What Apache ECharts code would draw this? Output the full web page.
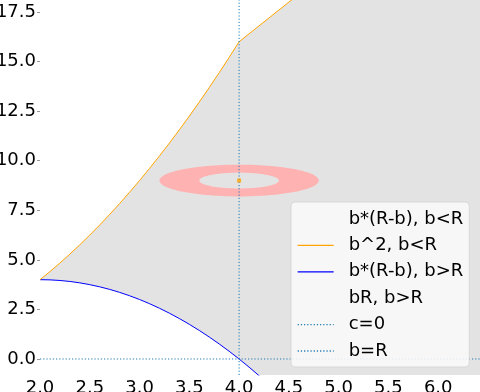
<!DOCTYPE html>
<html><head><meta charset="utf-8">
<script src="https://cdn.jsdelivr.net/npm/echarts@6/dist/echarts.min.js"></script>
<style>html,body{margin:0;padding:0;background:#fff}#c{width:480px;height:392px}</style>
</head><body><div id="c"></div>
<script>
// b values below R (=4)
const bLow = [2.0,2.1,2.2,2.3,2.4,2.5,2.6,2.7,2.8,2.9,3.0,3.1,3.2,3.3,3.4,3.5,3.6,3.7,3.8,3.9,4.0];
// upper edge b^2 for b<R
const squareLow = [4,4.41,4.84,5.29,5.76,6.25,6.76,7.29,7.84,8.41,9,9.61,10.24,10.89,11.56,12.25,12.96,13.69,14.44,15.21,16];
// lower edge b*(R-b) for b<R
const prodLow = [4,3.99,3.96,3.91,3.84,3.75,3.64,3.51,3.36,3.19,3,2.79,2.56,2.31,2.04,1.75,1.44,1.11,0.76,0.39,0];
// lower edge b*(R-b) for b>R
const bHigh = [4.0,4.1,4.2,4.3,4.4];
const prodHigh = [0,-0.41,-0.84,-1.29,-1.76];
// upper edge bR for b>R
const bHighR = [4.0,4.5,5.0,5.5,6.0,6.5];
const bRHigh = [16,18,20,22,24,26];
// reference lines
const cZero = 0;
const bEqR = 4;
// ring + point
const ringCenter = [4, 9];
const ringRadii = [0.4, 0.8];
// ticks
const xTicks = [2.0,2.5,3.0,3.5,4.0,4.5,5.0,5.5,6.0];
const yTicks = [0.0,2.5,5.0,7.5,10.0,12.5,15.0,17.5];
const xRange = [2.0, 6.42];
const yRange = [-0.807, 18.105];

const zip = (a, b) => a.map((v, i) => [v, b[i]]);
const FONT = 'DejaVu Sans';
const GRAY = '#e3e3e3';

const chart = echarts.init(document.getElementById('c'), null, {renderer: 'canvas'});
const hidden = {itemStyle: {opacity: 0}, lineStyle: {opacity: 0}};
const dotted = {color: '#1f77b4', width: 1, type: [1.2, 2]};

chart.setOption({
  animation: false,
  grid: {left: 40, right: 0, top: 0, bottom: 17, outerBoundsMode: 'none', containLabel: false},
  xAxis: {
    type: 'value', min: xRange[0], max: xRange[1],
    axisLine: {show: false},
    axisTick: {show: true, length: 3, lineStyle: {color: '#999'}, customValues: xTicks},
    axisLabel: {customValues: xTicks, formatter: v => v.toFixed(1), color: '#000', fontFamily: FONT, fontSize: 18, margin: 4},
    splitLine: {show: false}
  },
  yAxis: {
    type: 'value', min: yRange[0], max: yRange[1],
    axisLine: {show: false},
    axisTick: {show: true, length: 3, lineStyle: {color: '#999'}, customValues: yTicks},
    axisLabel: {customValues: yTicks, formatter: v => v.toFixed(1), color: '#000', fontFamily: FONT, fontSize: 18, margin: 4},
    splitLine: {show: false}
  },
  legend: {
    orient: 'vertical', left: 291, top: 202,
    padding: [8, 6, 7, 6],
    itemWidth: 36, itemHeight: 18, itemGap: 8.4,
    itemStyle: {opacity: 0},
    lineStyle: {width: 1.3},
    backgroundColor: 'rgba(248,248,248,0.9)',
    borderColor: 'rgba(210,210,210,0.8)', borderWidth: 1, borderRadius: 4,
    textStyle: {fontFamily: FONT, fontSize: 18, color: '#000', padding: [0, 0, 0, 10], lineHeight: 18},
    data: [
      Object.assign({name: 'b*(R-b), b<R'}, hidden),
      {name: 'b^2, b<R'},
      {name: 'b*(R-b), b>R'},
      Object.assign({name: 'bR, b>R'}, hidden),
      {name: 'c=0'},
      {name: 'b=R'}
    ]
  },
  series: [
    {
      type: 'line', silent: true, symbol: 'none',
      data: zip(bLow, squareLow).concat(zip(bHighR.slice(1), bRHigh.slice(1))),
      lineStyle: {opacity: 0}, areaStyle: {color: GRAY, opacity: 1, origin: 'start'}
    },
    {
      name: 'b*(R-b), b<R', type: 'line', symbol: 'none', silent: true,
      data: zip(bLow, prodLow), color: '#0000ff',
      lineStyle: {color: '#0000ff', width: 1},
      areaStyle: {color: '#ffffff', opacity: 1, origin: 'start'}
    },
    {
      name: 'b*(R-b), b>R', type: 'line', symbol: 'none', silent: true,
      data: zip(bHigh, prodHigh), color: '#0000ff',
      lineStyle: {color: '#0000ff', width: 1},
      areaStyle: {color: '#ffffff', opacity: 1, origin: 'start'}
    },
    {
      name: 'b^2, b<R', type: 'line', symbol: 'none', silent: true,
      data: zip(bLow, squareLow), color: '#ffa500',
      lineStyle: {color: '#ffa500', width: 1}
    },
    {
      name: 'bR, b>R', type: 'line', symbol: 'none', silent: true,
      data: zip(bHighR, bRHigh), color: '#ffa500',
      lineStyle: {color: '#ffa500', width: 1}
    },
    {
      type: 'custom', silent: true, z: 3,
      data: [ringCenter.slice()],
      renderItem: function (params, api) {
        const c = api.coord([api.value(0), api.value(1)]);
        const so = api.size([ringRadii[1], ringRadii[1]]);
        const si = api.size([ringRadii[0], ringRadii[0]]);
        const pts = s => {
          const a = [];
          for (let i = 0; i < 120; i++) {
            const t = i / 120 * Math.PI * 2;
            a.push([c[0] + s[0] * Math.cos(t), c[1] + s[1] * Math.sin(t)]);
          }
          return a;
        };
        return {type: 'group', children: [
          {type: 'polygon', shape: {points: pts(so)}, style: {fill: '#ffb2b2'}},
          {type: 'polygon', shape: {points: pts(si)}, style: {fill: GRAY}}
        ]};
      }
    },
    {
      name: 'c=0', type: 'line', symbol: 'none', silent: true,
      data: [[xRange[0], cZero], [xRange[1], cZero]], color: '#1f77b4',
      lineStyle: dotted
    },
    {
      name: 'b=R', type: 'line', symbol: 'none', silent: true,
      data: [[bEqR, yRange[0]], [bEqR, yRange[1]]], color: '#1f77b4',
      lineStyle: dotted
    },
    {
      type: 'scatter', silent: true, z: 5, data: [ringCenter.slice()],
      symbol: 'rect', symbolSize: 4, itemStyle: {color: '#ffa500'}
    }
  ]
});
</script>
</body></html>
